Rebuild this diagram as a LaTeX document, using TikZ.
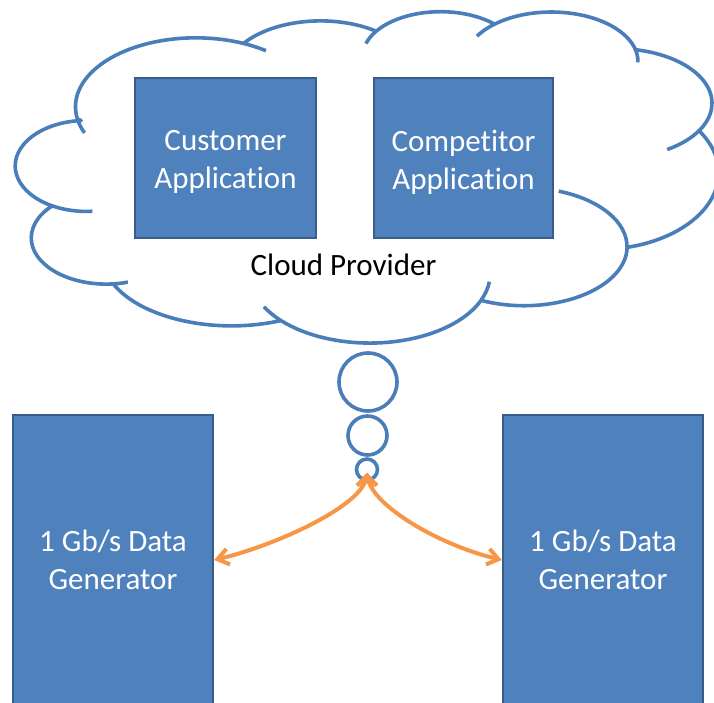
\documentclass[tikz,border=0pt]{standalone}
\usepackage{fontspec}
\setmainfont{Carlito}[Ligatures=CommonOff]
\usetikzlibrary{arrows.meta}
\definecolor{boxblue}{HTML}{4F81BD}
\definecolor{boxedge}{HTML}{385D8A}
\definecolor{cloudblue}{HTML}{4A7EBB}
\definecolor{linkorange}{HTML}{F79646}
\tikzset{
  appbox/.style={rectangle, draw=boxedge, line width=2.4pt, fill=boxblue, inner sep=0pt},
  boxlabel/.style={text=white, align=center, inner sep=0pt, font=\fontsize{31}{38}\selectfont},
  plainlabel/.style={text=black, inner sep=0pt, font=\fontsize{31}{38}\selectfont},
  cloudline/.style={draw=cloudblue, line width=3.6pt, line join=round},
  bubble/.style={circle, draw=cloudblue, line width=3.6pt, inner sep=0pt},
  barb/.tip={Straight Barb[length=11pt, width=16pt]},
  flow/.style={draw=linkorange, line width=4pt, barb-barb},
}
\begin{document}
\begin{tikzpicture}[x=1pt, y=1pt, yscale=-1]
\useasboundingbox (0,0) rectangle (714,702);
\fill[white] (0,0) rectangle (714,702);
\clip (0,0) rectangle (714,702);

% cloud outline with the short inner strokes at each lobe junction
\begin{scope}[shift={(8,11.5)}, xscale=1.7824, yscale=0.75]
  \draw[cloudline] (39.00,143.70) coordinate (s0)
    arc[start angle=169.513, delta angle=-11.858, x radius=67.53, y radius=91.90]
    (s0)
    arc[start angle=-190.487, delta angle=123.781, x radius=67.53, y radius=91.90] coordinate (p1)
    arc[start angle=-66.706, delta angle=12.319, x radius=67.53, y radius=91.90]
    (p1)
    arc[start angle=-144.102, delta angle=89.945, x radius=53.33, y radius=72.67] coordinate (p2)
    arc[start angle=-145.808, delta angle=-17.686, x radius=43.65, y radius=59.45]
    (p2)
    arc[start angle=-145.808, delta angle=99.723, x radius=43.65, y radius=59.45] coordinate (p3)
    arc[start angle=-130.986, delta angle=-18.195, x radius=48.57, y radius=65.95]
    (p3)
    arc[start angle=-130.986, delta angle=117.242, x radius=48.57, y radius=65.95] coordinate (p4)
    arc[start angle=-13.744, delta angle=14.859, x radius=48.57, y radius=65.95]
    (p4)
    arc[start angle=-78.709, delta angle=109.027, x radius=53.33, y radius=72.73] coordinate (p5)
    arc[start angle=30.318, delta angle=27.752, x radius=53.33, y radius=72.73]
    (p5)
    arc[start angle=-33.2, delta angle=109.7, x radius=67.04, y radius=102.27] coordinate (p6)
    arc[start angle=0.625, delta angle=-70.917, x radius=57.85, y radius=78.67]
    (p6)
    arc[start angle=0.625, delta angle=114.033, x radius=57.85, y radius=78.67] coordinate (p7)
    arc[start angle=22.452, delta angle=-15.998, x radius=67.52, y radius=92.15]
    (p7)
    arc[start angle=22.452, delta angle=115.173, x radius=67.52, y radius=92.15] coordinate (p8)
    arc[start angle=137.625, delta angle=14.081, x radius=67.52, y radius=92.15]
    (p8)
    arc[start angle=67.5, delta angle=88.9, x radius=72.43, y radius=93.33] coordinate (p9)
    arc[start angle=84.6, delta angle=-11.4, x radius=42.08, y radius=61.6]
    (p9)
    arc[start angle=84.6, delta angle=139.3, x radius=42.08, y radius=61.6] coordinate (p10)
    arc[start angle=118.6, delta angle=-33.6, x radius=39.83, y radius=60.67]
    (p10)
    arc[start angle=118.6, delta angle=147.4, x radius=39.83, y radius=60.67]
    -- (s0);
\end{scope}

% applications inside the cloud
\node[appbox, minimum width=181pt, minimum height=160pt] (cust) at (225.5,158) {};
\node[appbox, minimum width=179pt, minimum height=160pt] (comp) at (463.5,158) {};
\node[boxlabel] (custlbl) at ([yshift=4pt]cust.center) {Customer\\Application};
\node[boxlabel] (complbl) at ([yshift=4pt]comp.center) {Competitor\\Application};
\node[plainlabel] (provider) at (343.5,265) {Cloud Provider};

% thought bubbles below the cloud
\node[bubble, minimum size=58pt] (b1) at (368,382) {};
\node[bubble, minimum size=39pt] (b2) at (367.5,435.5) {};
\node[bubble, minimum size=21pt] (b3) at (367,469.5) {};
\coordinate (hub) at (367,472.5);

% traffic generators
\node[appbox, minimum width=200pt, minimum height=290pt] (lgen) at (113,560) {};
\node[appbox, minimum width=200pt, minimum height=290pt] (rgen) at (603,560) {};
\node[boxlabel] (lgenlbl) at (113,560) {1 Gb/s Data\\Generator};
\node[boxlabel] (rgenlbl) at (603,560) {1 Gb/s Data\\Generator};

% links between the generators and the cloud
\draw[flow] (hub) .. controls +(-5,33) and +(63,-15) .. (lgen.east);
\draw[flow] (hub) .. controls +(5,33) and +(-63,-15) .. (rgen.west);
\end{tikzpicture}
\end{document}
